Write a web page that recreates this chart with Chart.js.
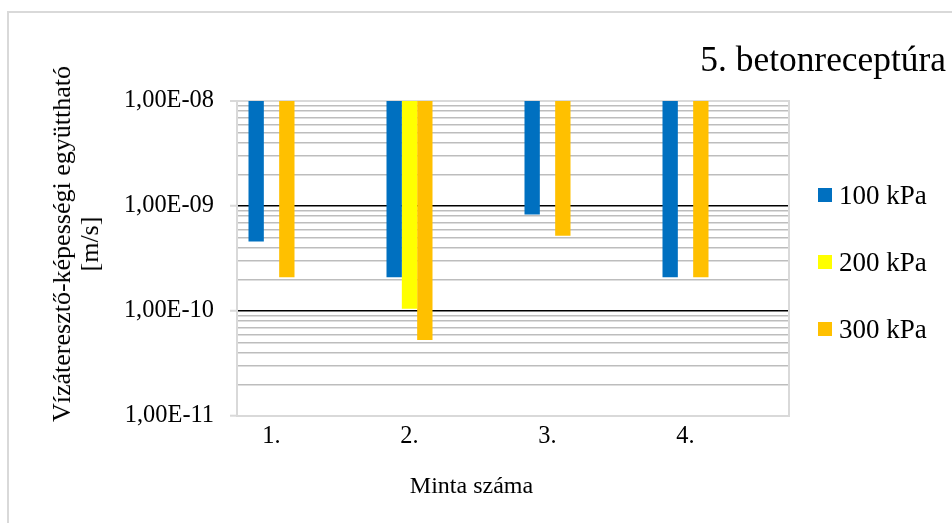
<!DOCTYPE html>
<html lang="hu">
<head>
<meta charset="utf-8">
<title>5. betonreceptúra</title>
<script src="https://cdn.jsdelivr.net/npm/chart.js@4.4.1/dist/chart.umd.min.js"></script>
<style>
  html, body { margin: 0; padding: 0; background: #fff; }
  #wrap {
    position: relative; width: 952px; height: 523px; overflow: hidden;
    font-family: 'Liberation Serif', 'Times New Roman', serif; color: #000;
  }
  #frame {
    position: absolute; left: 7px; top: 11px; width: 980px; height: 540px;
    border: 2px solid #d9d9d9; box-sizing: border-box;
  }
  #chart { position: absolute; left: 0; top: 0; }
  #ytitle {
    position: absolute; left: 76px; top: 244px;
    transform: translate(-50%, -50%) rotate(-90deg);
    white-space: nowrap; text-align: center; font-size: 26px; line-height: 28px;
  }
  #xtitle {
    position: absolute; left: 471.5px; top: 485px;
    transform: translate(-50%, -50%);
    white-space: nowrap; font-size: 24px;
  }
  #legend { position: absolute; left: 818px; top: 180px; font-size: 27px; }
  #legend .item { display: flex; align-items: center; height: 30px; margin-bottom: 37px; }
  #legend .box { width: 14px; height: 14px; margin-right: 7px; }
</style>
</head>
<body>
<div id="wrap">
  <div id="frame"></div>
  <canvas id="chart" width="952" height="523"></canvas>
  <div id="ytitle">Vízáteresztő-képességi együttható<br>[m/s]</div>
  <div id="xtitle">Minta száma</div>
  <div id="legend"></div>
</div>
<script>
// Sample numbers on the x axis
const categories = ['1.', '2.', '3.', '4.'];
const samplePositions = [1, 2, 3, 4];

// Permeability coefficient [m/s] per test pressure
const seriesLabels = ['100 kPa', '200 kPa', '300 kPa'];
const k100 = [4.6e-10, 2.1e-10, 8.3e-10, 2.1e-10];
const k200 = [null, 1.05e-10, null, null];
const k300 = [2.1e-10, 5.3e-11, 5.2e-10, 2.1e-10];

// Decade ticks of the log axis
const yTickValues = [1e-11, 1e-10, 1e-9, 1e-8];
const yTickLabels = ['1,00E-11', '1,00E-10', '1,00E-09', '1,00E-08'];

const seriesColors = ['#0070C0', '#FFFF00', '#FFC000'];
const barTop = yTickValues[yTickValues.length - 1];

Chart.defaults.font.family = "'Liberation Serif', 'Times New Roman', serif";
Chart.defaults.color = '#000';

function decadeIndex(value) {
    return yTickValues.findIndex(t => Math.abs(value / t - 1) < 1e-6);
}

// bars hang from the top of the axis down to the measured value
function hanging(values) {
    return values.map(v => v == null ? null : [v, barTop]);
}

const datasets = [k100, k200, k300].map((values, i) => ({
    label: seriesLabels[i],
    data: hanging(values),
    backgroundColor: seriesColors[i],
    borderWidth: 0,
    categoryPercentage: 1 / 3,
    barPercentage: 1,
    yAxisID: 'y'
}));

const chart = new Chart(document.getElementById('chart'), {
    type: 'bar',
    data: { labels: samplePositions, datasets: datasets },
    options: {
        responsive: false,
        devicePixelRatio: 1,
        animation: false,
        layout: { padding: { top: 40, right: 6, bottom: 0, left: 0 } },
        plugins: {
            legend: { display: false },
            tooltip: { enabled: false },
            title: {
                display: true,
                text: '5. betonreceptúra',
                align: 'end',
                color: '#000',
                font: { size: 35.4, weight: 'normal' },
                padding: { top: 0, bottom: 18.5 }
            }
        },
        scales: {
            x: {
                type: 'linear',
                offset: false,
                min: 0.75,
                max: 4.75,
                afterBuildTicks(scale) {
                    scale.ticks = samplePositions.map(v => ({ value: v }));
                },
                afterFit(scale) { scale.height = 107; },
                grid: { display: false, drawTicks: false },
                border: { color: '#d9d9d9', width: 2 },
                ticks: {
                    autoSkip: false,
                    font: { size: 24.4 },
                    color: '#000',
                    padding: 6,
                    callback(value) {
                        const i = samplePositions.indexOf(value);
                        return i >= 0 ? categories[i] : '';
                    }
                }
            },
            y: {
                type: 'logarithmic',
                position: 'left',
                min: yTickValues[0],
                max: barTop,
                afterBuildTicks(scale) {
                    const ticks = [];
                    for (let d = 0; d < yTickValues.length - 1; d++) {
                        for (let m = 1; m < 10; m++) {
                            ticks.push({ value: yTickValues[d] * m });
                        }
                    }
                    ticks.push({ value: barTop });
                    scale.ticks = ticks;
                },
                afterFit(scale) { scale.width = 237; },
                ticks: {
                    autoSkip: false,
                    padding: 16,
                    color: '#000',
                    font: { size: 24.4 },
                    callback(value) {
                        const i = decadeIndex(value);
                        return i >= 0 ? yTickLabels[i] : '';
                    }
                },
                grid: {
                    tickLength: 7,
                    tickWidth: 2,
                    color(ctx) {
                        const i = decadeIndex(ctx.tick.value);
                        if (i === 1 || i === 2) return '#000';
                        if (i === 3) return '#d9d9d9';
                        return '#bdbdbd';
                    },
                    lineWidth(ctx) {
                        const i = decadeIndex(ctx.tick.value);
                        if (i === 1 || i === 2) return 1.5;
                        if (i === 3) return 2;
                        return 1.4;
                    },
                    tickColor(ctx) {
                        return decadeIndex(ctx.tick.value) >= 0 ? '#d9d9d9' : 'rgba(0,0,0,0)';
                    }
                },
                border: { color: '#d9d9d9', width: 2 }
            },
            // empty right axis: closes the plot frame and leaves room for the legend
            yRight: {
                type: 'logarithmic',
                position: 'right',
                min: yTickValues[0],
                max: barTop,
                ticks: { display: false },
                grid: { display: false, drawTicks: false },
                border: { color: '#d9d9d9', width: 2 },
                afterFit(scale) { scale.width = 157; }
            }
        }
    }
});

// legend list built from the chart datasets
const legendEl = document.getElementById('legend');
chart.data.datasets.forEach(ds => {
    const item = document.createElement('div');
    item.className = 'item';
    const box = document.createElement('span');
    box.className = 'box';
    box.style.background = ds.backgroundColor;
    const text = document.createElement('span');
    text.textContent = ds.label;
    item.appendChild(box);
    item.appendChild(text);
    legendEl.appendChild(item);
});
</script>
</body>
</html>
